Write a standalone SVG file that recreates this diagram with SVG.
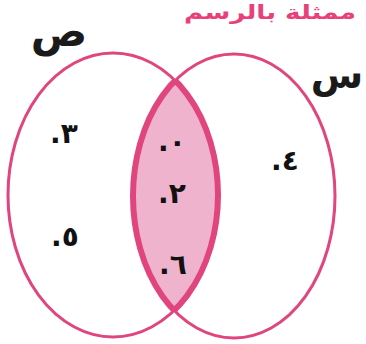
<svg xmlns="http://www.w3.org/2000/svg" width="366" height="344" viewBox="0 0 366 344">
<style>
.ring{fill:none;stroke:#e0457e;stroke-width:3}
.edge{fill:none;stroke:#e0457e;stroke-width:6}
.lab{font-family:"DejaVu Sans",sans-serif;font-weight:bold;fill:#1a1a1a}
.num{font-family:"DejaVu Sans",sans-serif;font-weight:bold;font-size:28px;fill:#111}
.title{font-family:"DejaVu Sans",sans-serif;font-weight:bold;font-size:20px;fill:#e8407a}
</style>
<defs>
<clipPath id="cl"><ellipse cx="113" cy="195" rx="105" ry="142"/></clipPath>
<clipPath id="cr"><ellipse cx="234" cy="196" rx="101" ry="142"/></clipPath>
</defs>
<rect width="366" height="344" fill="#fff"/>
<text class="title" x="270" y="19" text-anchor="middle" direction="rtl" textLength="172" lengthAdjust="spacingAndGlyphs">ممثلة بالرسم</text>
<g id="set-sad">
<ellipse class="ring" cx="113" cy="195" rx="105" ry="142"/>
<text class="lab" x="59" y="46" font-size="42" text-anchor="middle">ص</text>
</g>
<g id="set-sin">
<ellipse class="ring" cx="234" cy="196" rx="101" ry="142"/>
<text class="lab" x="337" y="88" font-size="38" text-anchor="middle">س</text>
</g>
<g id="intersection">
<g clip-path="url(#cl)">
<ellipse cx="234" cy="196" rx="101" ry="142" fill="#efb3cd"/>
<ellipse class="edge" cx="234" cy="196" rx="101" ry="142"/>
</g>
<g clip-path="url(#cr)">
<ellipse class="edge" cx="113" cy="195" rx="105" ry="142"/>
</g>
</g>
<g id="elements">
<text class="num" x="50" y="143">.٣</text>
<text class="num" x="158" y="151">.٠</text>
<text class="num" x="158" y="203">.٢</text>
<text class="num" x="271" y="170">.٤</text>
<text class="num" x="51" y="246">.٥</text>
<text class="num" x="159" y="274">.٦</text>
</g>
</svg>
